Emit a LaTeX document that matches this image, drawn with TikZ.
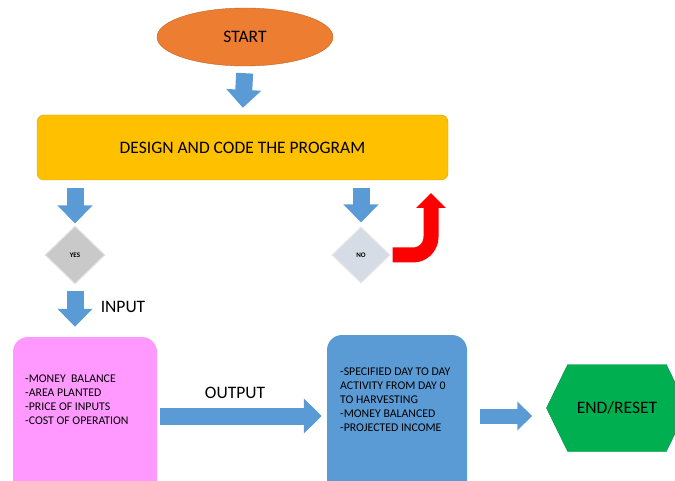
\documentclass[tikz,border=0pt]{standalone}
\usepackage{fontspec}
\setmainfont{Carlito}
\usetikzlibrary{shapes.geometric,shapes.symbols,arrows.meta}

\definecolor{startorange}{HTML}{ED7D31}
\definecolor{codeyellow}{HTML}{FFC000}
\definecolor{flowblue}{HTML}{5B9BD5}
\definecolor{inputpink}{HTML}{FF99FF}
\definecolor{endgreen}{HTML}{00B050}
\definecolor{yesgray}{HTML}{C9C9C9}
\definecolor{nogray}{HTML}{D6DCE5}

\begin{document}
\begin{tikzpicture}[x=1pt,y=-1pt,
    every node/.style={font=\fontsize{17.5}{20}\selectfont},
    flowarrow/.style={flowblue, line width=17pt, -{Triangle[width=34pt,length=18pt]}},
    loopback/.style={red, line width=15pt, rounded corners=18pt, -{Triangle[width=29pt,length=15pt]}},
    choice/.style={diamond, inner sep=0pt, minimum width=60pt, minimum height=58pt,
        draw=white!80!gray, line width=1pt, font=\fontsize{7}{8}\bfseries\selectfont},
    panel/.style={rectangle, rounded corners=15pt, inner sep=0pt},
    listtext/.style={align=left, anchor=west, inner sep=0pt,
        font=\fontsize{11.8}{14}\selectfont}]
    \useasboundingbox (0,0) rectangle (675,481);

    \node[ellipse, fill=startorange, draw=startorange!80!black, minimum width=176pt, minimum height=58pt] at (245,37)(start){START};
    \node[rectangle, rounded corners=7pt, fill=codeyellow, draw=codeyellow!85!black, minimum width=411pt, minimum height=65pt] at (242.5,147.5)(design){DESIGN AND CODE THE PROGRAM};
    \node[choice, fill=yesgray] at (75,255)(yes){YES};
    \node[choice, fill=nogray, minimum width=58pt, minimum height=56pt] at (361,255)(no){NO};

    % input and output panels run off the bottom edge
    \node[panel, fill=inputpink, minimum width=144pt, minimum height=158pt] at (85,416)(input){};
    \node[listtext] at (25,400)(inputlist){-MONEY\ \ BALANCE\\-AREA PLANTED\\-PRICE OF INPUTS\\-COST OF OPERATION};
    \node[panel, fill=flowblue, minimum width=140pt, minimum height=162pt] at (397,416)(report){};
    \node[listtext] at (340,400)(reportlist){-SPECIFIED DAY TO DAY\\ACTIVITY FROM DAY 0\\TO HARVESTING\\-MONEY BALANCED\\-PROJECTED INCOME};

    \node[signal, signal to=east and west, signal pointer angle=128, fill=endgreen, draw=endgreen!80!black,
        minimum width=141pt, minimum height=87pt, inner sep=0pt] at (617,408)(finish){END/RESET};

    \node at (123,307)(inlabel){INPUT};
    \node at (235,393)(outlabel){OUTPUT};

    \coordinate (back) at (431,181);

    \draw[flowarrow, shorten <=7pt, shorten >=7pt] (start.south) -- (design.north);
    \draw[flowarrow, shorten <=8pt, shorten >=2pt] (yes.north |- design.south) -- (yes.north);
    \draw[flowarrow, shorten <=7pt, shorten >=10pt] (yes.south) -- (yes.south |- input.north);
    \draw[flowarrow, shorten <=8pt, shorten >=4pt] (no.north |- design.south) -- (no.north);
    \draw[flowarrow, shorten <=3pt, shorten >=5pt] (input.east) -- (report.west);
    \draw[flowarrow, line width=15pt, -{Triangle[width=28pt,length=15pt]}, shorten <=13pt, shorten >=14pt] (report.east) -- (finish.west |- report.east);
    \draw[loopback, shorten <=2pt, shorten >=12pt] (no.east) -| (back);
\end{tikzpicture}
\end{document}
